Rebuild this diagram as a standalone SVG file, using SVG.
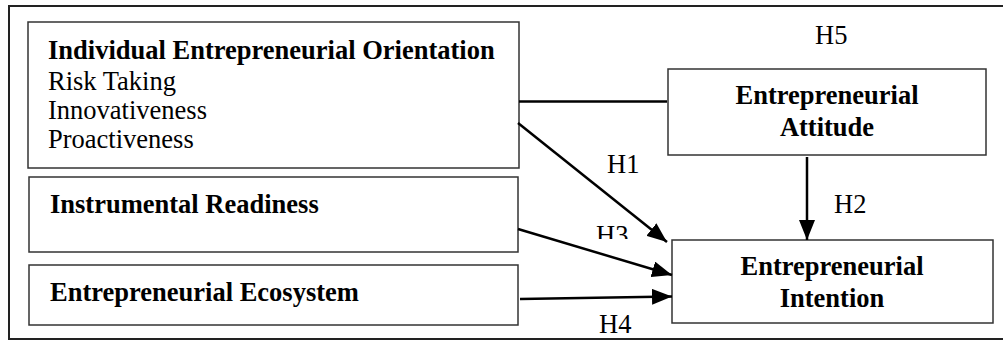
<svg xmlns="http://www.w3.org/2000/svg" width="1003" height="341" viewBox="0 0 1003 341">
<style>
.box{fill:#fff;stroke:#333;stroke-width:1.5}
.t{font-family:"Liberation Serif","Times New Roman",serif;font-size:26.5px;fill:#000}
.b{font-weight:bold}
.c{stroke:#000;stroke-width:2.5;fill:none}
</style>
<defs>
<marker id="ah2" viewBox="0 0 20 16" refX="20" refY="8" markerWidth="20" markerHeight="16" orient="auto" markerUnits="userSpaceOnUse">
<path d="M0,0 L20,8 L0,16 z" fill="#000"/>
</marker>
<clipPath id="h3clip"><rect x="580" y="200" width="80" height="39"/></clipPath>
</defs>
<rect id="frame" x="9" y="6" width="1020" height="333" fill="none" stroke="#222" stroke-width="2"/>
<g id="ieo">
<rect class="box" x="28" y="22" width="491" height="146"/>
<text class="t b" x="48" y="59">Individual Entrepreneurial Orientation</text>
<text class="t" x="48" y="90">Risk Taking</text>
<text class="t" x="48" y="119">Innovativeness</text>
<text class="t" x="48" y="148">Proactiveness</text>
</g>
<g id="ir">
<rect class="box" x="29" y="177" width="489" height="75"/>
<text class="t b" x="50" y="213">Instrumental Readiness</text>
</g>
<g id="ee">
<rect class="box" x="29" y="265" width="489" height="60"/>
<text class="t b" x="50" y="301">Entrepreneurial Ecosystem</text>
</g>
<g id="ea">
<rect class="box" x="668" y="69" width="318" height="86"/>
<text class="t b" x="827" y="104" text-anchor="middle">Entrepreneurial</text>
<text class="t b" x="827" y="136" text-anchor="middle">Attitude</text>
</g>
<g id="ei">
<rect class="box" x="672" y="240" width="321" height="83"/>
<text class="t b" x="832" y="275" text-anchor="middle">Entrepreneurial</text>
<text class="t b" x="832" y="307" text-anchor="middle">Intention</text>
</g>
<g id="connectors">
<line class="c" x1="519" y1="101.5" x2="667" y2="101.5"/>
<line class="c" x1="518" y1="123" x2="667" y2="242" marker-end="url(#ah2)"/>
<line class="c" x1="518" y1="229" x2="672" y2="275" marker-end="url(#ah2)"/>
<line class="c" x1="520" y1="299" x2="672" y2="296.5" marker-end="url(#ah2)"/>
<line class="c" x1="807" y1="157" x2="807" y2="240" marker-end="url(#ah2)"/>
</g>
<g id="labels">
<text class="t" x="815" y="44">H5</text>
<text class="t" x="607" y="173">H1</text>
<text class="t" x="834" y="213">H2</text>
<text class="t" x="596" y="244" clip-path="url(#h3clip)">H3</text>
<text class="t" x="599" y="333">H4</text>
</g>
</svg>
